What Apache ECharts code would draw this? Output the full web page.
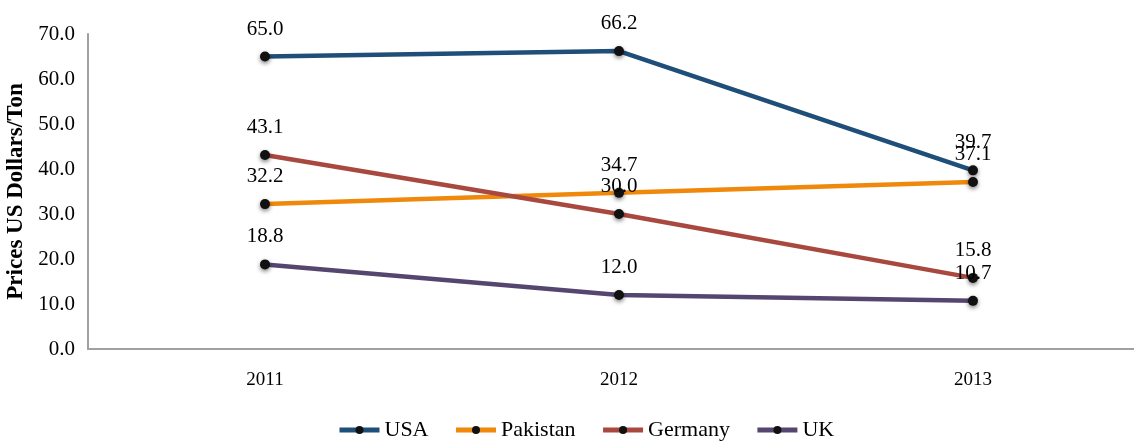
<!DOCTYPE html>
<html>
<head>
    <meta charset="utf-8">
    <title>Prices</title>
    <script src="https://cdn.jsdelivr.net/npm/echarts@6/dist/echarts.min.js"></script>
</head>
<body style="margin:0">
<style>
    #chart { width: 1134px; height: 444px; }
</style>
<div id="chart"></div>
<script type="text/javascript">
var years = ['2011', '2012', '2013'];
var usa = [65.0, 66.2, 39.7];
var pakistan = [32.2, 34.7, 37.1];
var germany = [43.1, 30.0, 15.8];
var uk = [18.8, 12.0, 10.7];

var names = ['USA', 'Pakistan', 'Germany', 'UK'];
var values = [usa, pakistan, germany, uk];
var colors = ['#1f4e79', '#f0880c', '#a8483f', '#55466f'];
var font = 'Liberation Serif';

var chart = echarts.init(document.getElementById('chart'));

var series = [];
for (var i = 0; i < names.length; ++i) {
    series.push({
        name: names[i],
        type: 'line',
        data: values[i],
        symbol: 'circle',
        symbolSize: 10,
        lineStyle: { width: 4.5, color: colors[i] },
        itemStyle: { color: '#111', shadowBlur: 4, shadowColor: 'rgba(0,0,0,0.5)', shadowOffsetY: 2 },
        label: {
            show: true,
            position: 'top',
            distance: 12,
            formatter: function (p) { return p.value.toFixed(1); },
            fontFamily: font,
            fontSize: 21,
            color: '#000'
        },
        animation: false
    });
}

chart.setOption({
    color: colors,
    textStyle: { fontFamily: font },
    grid: { left: 88, width: 1062, top: 34, bottom: 95, containLabel: false, outerBoundsMode: 'none' },
    legend: {
        bottom: -2,
        left: 332,
        itemWidth: 40,
        itemHeight: 10,
        itemGap: 25,
        lineStyle: { width: 5 },
        itemStyle: { color: '#111' },
        textStyle: { fontFamily: font, fontSize: 22, color: '#000' },
        data: names
    },
    xAxis: {
        type: 'category',
        data: years,
        axisLine: { lineStyle: { color: '#a0a0a0', width: 2 } },
        axisTick: { show: false },
        axisLabel: { fontFamily: font, fontSize: 19, color: '#000', margin: 22 }
    },
    yAxis: {
        type: 'value',
        min: 0,
        max: 70,
        interval: 10,
        name: 'Prices US Dollars/Ton',
        nameLocation: 'middle',
        nameGap: 57,
        nameTextStyle: { fontFamily: font, fontSize: 23, fontWeight: 'bold', color: '#000' },
        axisLine: { show: true, lineStyle: { color: '#a0a0a0', width: 2 } },
        axisTick: { show: false },
        splitLine: { show: false },
        axisLabel: {
            fontFamily: font, fontSize: 21, color: '#000', margin: 13,
            padding: [5, 0, 0, 0],
            formatter: function (v) { return v.toFixed(1); }
        }
    },
    series: series
});
</script>
</body>
</html>
